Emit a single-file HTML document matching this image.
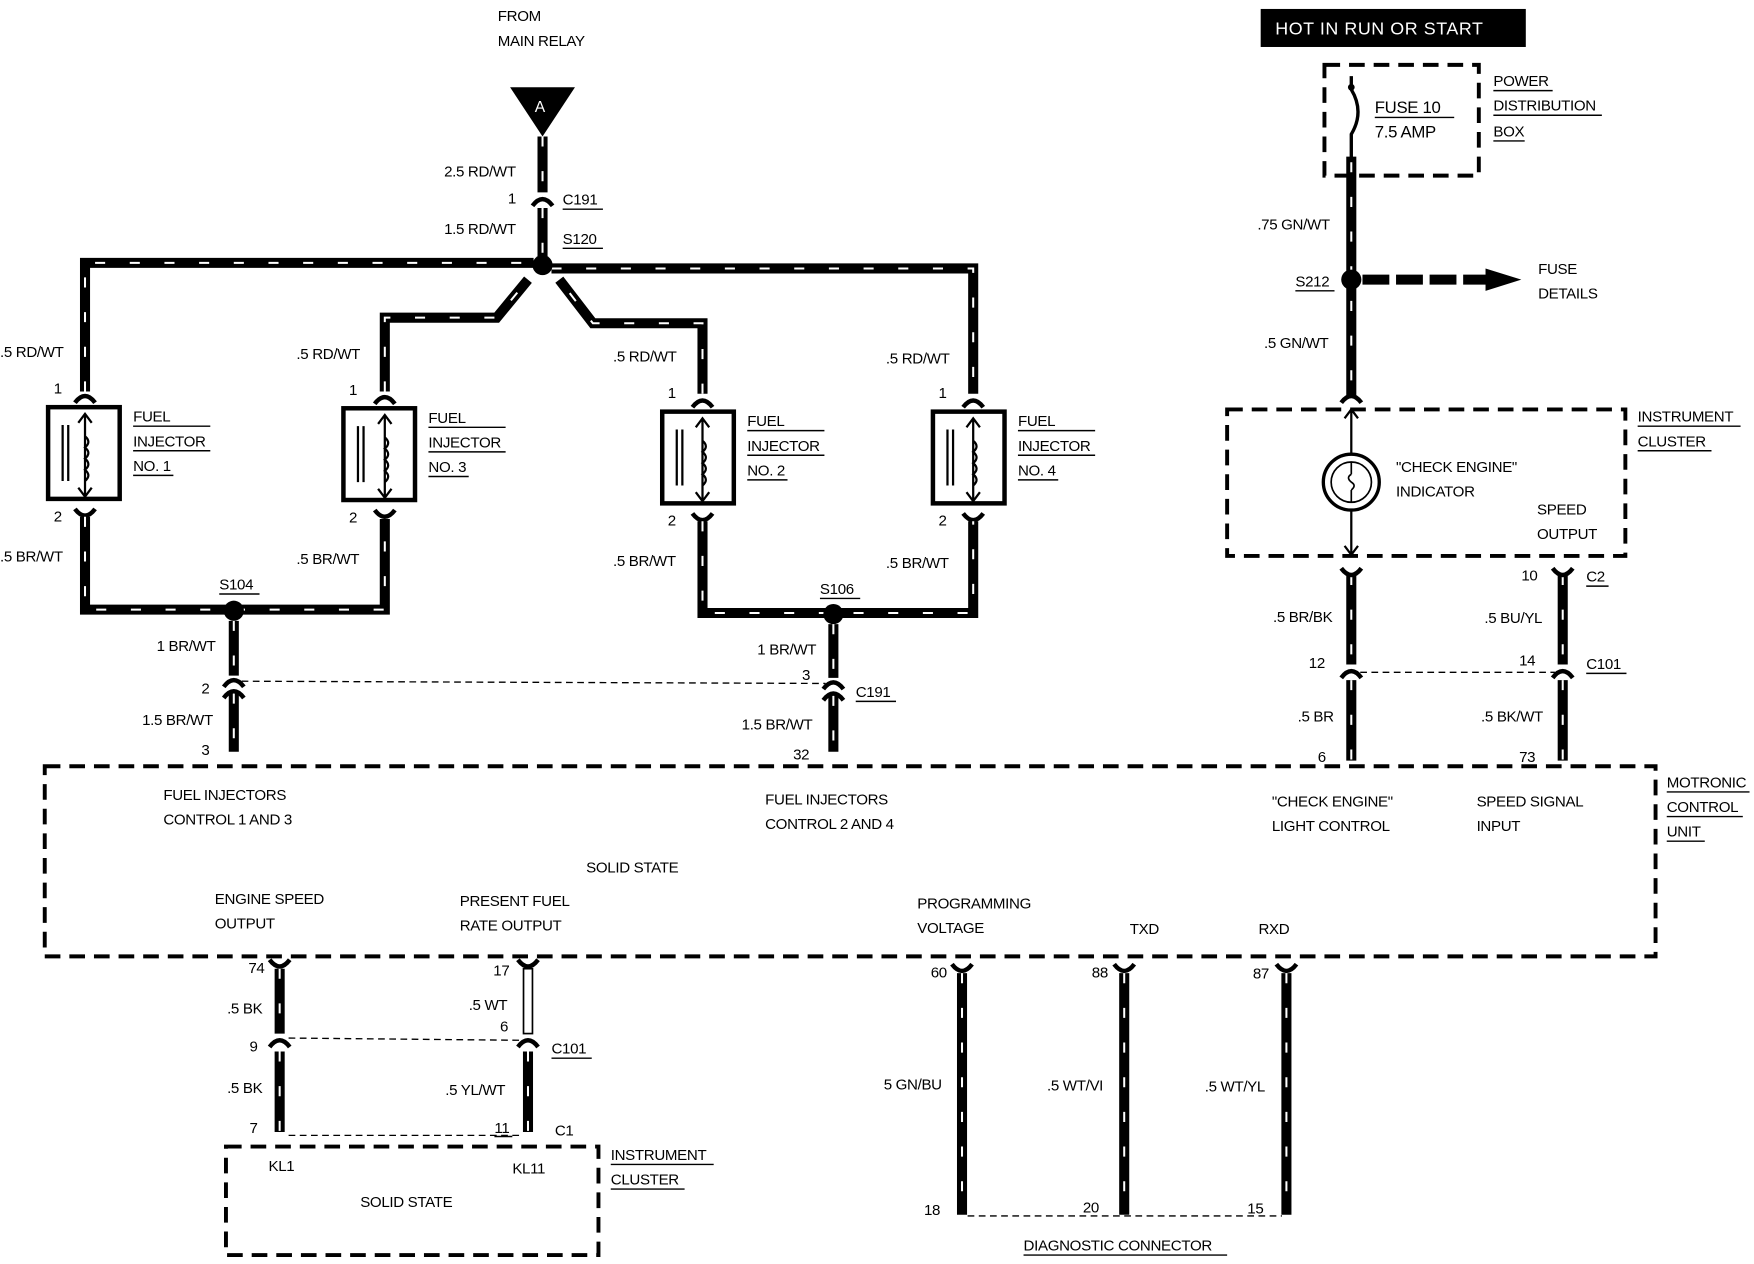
<!DOCTYPE html>
<html><head><meta charset="utf-8"><style>
html,body{margin:0;padding:0;background:#fff;width:1754px;height:1264px;overflow:hidden}
svg{display:block}
text{font-family:"Liberation Sans",sans-serif;font-size:13.5px;fill:#000;letter-spacing:-0.3px}
.w{stroke:#000;stroke-width:9;fill:none;stroke-linejoin:miter}
.d{stroke:#fff;stroke-width:1.8;fill:none;stroke-dasharray:9 22}
.db{stroke:#000;stroke-width:3.5;fill:none;stroke-dasharray:14 8}
.dt{stroke:#000;stroke-width:1.2;fill:none;stroke-dasharray:6 4}
.u{stroke:#000;stroke-width:1.3}
</style></head><body>
<svg width="1754" height="1264" viewBox="0 0 1568 1130" preserveAspectRatio="none" xmlns="http://www.w3.org/2000/svg">
<defs>
<g id="fork"><path d="M-9 8 Q0 -4 9 8" stroke="#000" stroke-width="4" fill="none"/></g>
</defs>

<text x="445" y="19">FROM</text>
<text x="445" y="41">MAIN RELAY</text>
<polygon points="456,78 514,78 485,122" fill="#000"/>
<text x="478" y="100" style="fill:#fff;font-size:14px">A</text>

<path class="w" d="M485 122 V172 M485 186 V237"/>
<path class="d" d="M485 122 V172 M485 186 V237"/>
<path d="M476 184 Q485 172 494 184" stroke="#000" stroke-width="4" fill="none"/>
<text x="397" y="158">2.5 RD/WT</text>
<text x="454" y="182">1</text>
<text x="503" y="183">C191</text><line class="u" x1="503" y1="187" x2="539" y2="187"/>
<text x="397" y="209">1.5 RD/WT</text>
<text x="503" y="218">S120</text><line class="u" x1="503" y1="222" x2="539" y2="222"/>

<path class="w" d="M76 350 V235 H477 M493 240 H870 V352 M344 350 V284 H444 L472 250 M628 352 V289 H530 L500 250"/>
<path class="d" d="M76 350 V235 H477 M493 240 H870 V352 M344 350 V284 H444 L472 250 M628 352 V289 H530 L500 250"/>
<circle cx="485" cy="237" r="9" fill="#000"/>

<text x="0" y="319">.5 RD/WT</text>
<text x="265" y="321">.5 RD/WT</text>
<text x="548" y="323">.5 RD/WT</text>
<text x="792" y="325">.5 RD/WT</text>

<g>
<use href="#fork" x="76" y="352"/><text x="48" y="352">1</text>
<rect x="43" y="364" width="64" height="82" fill="none" stroke="#000" stroke-width="4"/>
<path d="M56 380 V430 M61 380 V430" stroke="#000" stroke-width="2"/>
<path d="M76 370 V444 M70 378 L76 370 L82 378 M70 436 L76 444 L82 436 M76 390 q6 5 0 10 q6 5 0 10 q6 5 0 10 q6 5 0 10" stroke="#000" stroke-width="2" fill="none"/>
<text x="48" y="466">2</text><use href="#fork" x="76" y="455" transform="rotate(180 76 459)"/>
<text x="119" y="377">FUEL</text><line class="u" x1="119" y1="381" x2="188" y2="381"/>
<text x="119" y="399">INJECTOR</text><line class="u" x1="119" y1="403" x2="188" y2="403"/>
<text x="119" y="421">NO. 1</text><line class="u" x1="119" y1="425" x2="155" y2="425"/>
</g>
<g transform="translate(264,1)">
<use href="#fork" x="80" y="352"/><text x="48" y="352">1</text>
<rect x="43" y="364" width="64" height="82" fill="none" stroke="#000" stroke-width="4"/>
<path d="M56 380 V430 M61 380 V430" stroke="#000" stroke-width="2"/>
<path d="M80 370 V444 M74 378 L80 370 L86 378 M74 436 L80 444 L86 436 M80 390 q6 5 0 10 q6 5 0 10 q6 5 0 10 q6 5 0 10" stroke="#000" stroke-width="2" fill="none"/>
<text x="48" y="466">2</text><use href="#fork" x="80" y="455" transform="rotate(180 80 459)"/>
<text x="119" y="377">FUEL</text><line class="u" x1="119" y1="381" x2="188" y2="381"/>
<text x="119" y="399">INJECTOR</text><line class="u" x1="119" y1="403" x2="188" y2="403"/>
<text x="119" y="421">NO. 3</text><line class="u" x1="119" y1="425" x2="155" y2="425"/>
</g>
<g transform="translate(549,4)">
<use href="#fork" x="79" y="352"/><text x="48" y="352">1</text>
<rect x="43" y="364" width="64" height="82" fill="none" stroke="#000" stroke-width="4"/>
<path d="M56 380 V430 M61 380 V430" stroke="#000" stroke-width="2"/>
<path d="M79 370 V444 M73 378 L79 370 L85 378 M73 436 L79 444 L85 436 M79 390 q6 5 0 10 q6 5 0 10 q6 5 0 10 q6 5 0 10" stroke="#000" stroke-width="2" fill="none"/>
<text x="48" y="466">2</text><use href="#fork" x="79" y="455" transform="rotate(180 79 459)"/>
<text x="119" y="377">FUEL</text><line class="u" x1="119" y1="381" x2="188" y2="381"/>
<text x="119" y="399">INJECTOR</text><line class="u" x1="119" y1="403" x2="188" y2="403"/>
<text x="119" y="421">NO. 2</text><line class="u" x1="119" y1="425" x2="155" y2="425"/>
</g>
<g transform="translate(791,4)">
<use href="#fork" x="79" y="352"/><text x="48" y="352">1</text>
<rect x="43" y="364" width="64" height="82" fill="none" stroke="#000" stroke-width="4"/>
<path d="M56 380 V430 M61 380 V430" stroke="#000" stroke-width="2"/>
<path d="M79 370 V444 M73 378 L79 370 L85 378 M73 436 L79 444 L85 436 M79 390 q6 5 0 10 q6 5 0 10 q6 5 0 10 q6 5 0 10" stroke="#000" stroke-width="2" fill="none"/>
<text x="48" y="466">2</text><use href="#fork" x="79" y="455" transform="rotate(180 79 459)"/>
<text x="119" y="377">FUEL</text><line class="u" x1="119" y1="381" x2="188" y2="381"/>
<text x="119" y="399">INJECTOR</text><line class="u" x1="119" y1="403" x2="188" y2="403"/>
<text x="119" y="421">NO. 4</text><line class="u" x1="119" y1="425" x2="155" y2="425"/>
</g>

<path class="w" d="M76 462 V545 H344 V464 M628 466 V548 H870 V466"/>
<path class="d" d="M76 462 V545 H344 V464 M628 466 V548 H870 V466"/>
<circle cx="209" cy="546" r="9" fill="#000"/>
<circle cx="745" cy="549" r="9" fill="#000"/>
<text x="0" y="502">.5 BR/WT</text>
<text x="265" y="504">.5 BR/WT</text>
<text x="548" y="506">.5 BR/WT</text>
<text x="792" y="508">.5 BR/WT</text>
<text x="196" y="527">S104</text><line class="u" x1="196" y1="531" x2="232" y2="531"/>
<text x="733" y="531">S106</text><line class="u" x1="733" y1="535" x2="769" y2="535"/>

<path class="w" d="M209 555 V604 M209 620 V672 M745 558 V606 M745 622 V672"/>
<path class="d" d="M209 555 V604 M209 620 V672 M745 558 V606 M745 622 V672"/>
<path d="M200 614 Q209 602 218 614 M200 624 Q209 612 218 624 M736 616 Q745 604 754 616 M736 626 Q745 614 754 626" stroke="#000" stroke-width="4" fill="none"/>
<line class="dt" x1="216" y1="609" x2="738" y2="611"/>
<text x="140" y="582">1 BR/WT</text>
<text x="180" y="620">2</text>
<text x="127" y="648">1.5 BR/WT</text>
<text x="180" y="675">3</text>
<text x="677" y="585">1 BR/WT</text>
<text x="717" y="608">3</text>
<text x="765" y="623">C191</text><line class="u" x1="765" y1="627" x2="801" y2="627"/>
<text x="663" y="652">1.5 BR/WT</text>
<text x="709" y="679">32</text>

<rect x="1127" y="8" width="237" height="34" fill="#000"/>
<text x="1140" y="31" style="fill:#fff;font-size:16px;letter-spacing:0.5px">HOT IN RUN OR START</text>
<rect x="1184" y="58" width="138" height="99" class="db"/>
<path d="M1208 68 V80 Q1220 100 1208 120 V160" stroke="#000" stroke-width="3" fill="none"/>
<circle cx="1208" cy="78" r="3" fill="#000"/>
<text x="1229" y="101" style="font-size:15px">FUSE 10</text><line class="u" x1="1229" y1="105" x2="1300" y2="105"/>
<text x="1229" y="123" style="font-size:15px">7.5 AMP</text>
<text x="1335" y="77">POWER</text><line class="u" x1="1335" y1="81" x2="1388" y2="81"/>
<text x="1335" y="99">DISTRIBUTION</text><line class="u" x1="1335" y1="103" x2="1432" y2="103"/>
<text x="1335" y="122">BOX</text><line class="u" x1="1335" y1="126" x2="1363" y2="126"/>

<path class="w" d="M1208 140 V354"/>
<path class="d" d="M1208 145 V354"/>
<circle cx="1208" cy="250" r="9" fill="#000"/>
<path d="M1218 250 H1330" stroke="#000" stroke-width="9" stroke-dasharray="24 6"/>
<polygon points="1328,240 1360,250 1328,260" fill="#000"/>
<text x="1124" y="205">.75 GN/WT</text>
<text x="1158" y="256">S212</text><line class="u" x1="1158" y1="260" x2="1193" y2="260"/>
<text x="1375" y="245">FUSE</text>
<text x="1375" y="267">DETAILS</text>
<text x="1130" y="311">.5 GN/WT</text>
<use href="#fork" x="1208" y="352"/>

<rect x="1097" y="366" width="356" height="131" class="db"/>
<path d="M1208 366 V496 M1202 374 L1208 366 L1214 374 M1202 488 L1208 496 L1214 488" stroke="#000" stroke-width="2" fill="none"/>
<circle cx="1208" cy="431" r="25" fill="#fff" stroke="#000" stroke-width="3"/>
<circle cx="1208" cy="431" r="18" fill="none" stroke="#000" stroke-width="1.5"/>
<path d="M1208 413 V424 M1208 438 V449 M1208 424 q-5 3 0 7 q5 3 0 7" stroke="#000" stroke-width="1.5" fill="none"/>
<text x="1248" y="422">"CHECK ENGINE"</text>
<text x="1248" y="444">INDICATOR</text>
<text x="1374" y="460">SPEED</text>
<text x="1374" y="482">OUTPUT</text>
<text x="1464" y="377">INSTRUMENT</text><line class="u" x1="1464" y1="381" x2="1556" y2="381"/>
<text x="1464" y="399">CLUSTER</text><line class="u" x1="1464" y1="403" x2="1530" y2="403"/>

<path class="w" d="M1208 514 V594 M1208 608 V680 M1397 514 V594 M1397 608 V680"/>
<path class="d" d="M1208 514 V594 M1208 608 V680 M1397 514 V594 M1397 608 V680"/>
<use href="#fork" x="1208" y="508" transform="rotate(180 1208 512)"/>
<use href="#fork" x="1397" y="508" transform="rotate(180 1397 512)"/>
<path d="M1199 606 Q1208 594 1217 606 M1388 606 Q1397 594 1406 606" stroke="#000" stroke-width="4" fill="none"/>
<line class="dt" x1="1216" y1="601" x2="1390" y2="601"/>
<text x="1138" y="556">.5 BR/BK</text>
<text x="1170" y="597">12</text>
<text x="1160" y="645">.5 BR</text>
<text x="1178" y="681">6</text>
<text x="1360" y="519">10</text>
<text x="1418" y="520">C2</text><line class="u" x1="1418" y1="524" x2="1438" y2="524"/>
<text x="1327" y="557">.5 BU/YL</text>
<text x="1358" y="595">14</text>
<text x="1418" y="598">C101</text><line class="u" x1="1418" y1="602" x2="1454" y2="602"/>
<text x="1324" y="645">.5 BK/WT</text>
<text x="1358" y="681">73</text>

<rect x="40" y="685" width="1440" height="170" class="db"/>
<text x="1490" y="704">MOTRONIC</text><line class="u" x1="1490" y1="708" x2="1564" y2="708"/>
<text x="1490" y="726">CONTROL</text><line class="u" x1="1490" y1="730" x2="1558" y2="730"/>
<text x="1490" y="748">UNIT</text><line class="u" x1="1490" y1="752" x2="1524" y2="752"/>
<text x="146" y="715">FUEL INJECTORS</text>
<text x="146" y="737">CONTROL 1 AND 3</text>
<text x="684" y="719">FUEL INJECTORS</text>
<text x="684" y="741">CONTROL 2 AND 4</text>
<text x="1137" y="721">"CHECK ENGINE"</text>
<text x="1137" y="743">LIGHT CONTROL</text>
<text x="1320" y="721">SPEED SIGNAL</text>
<text x="1320" y="743">INPUT</text>
<text x="524" y="780">SOLID STATE</text>
<text x="192" y="808">ENGINE SPEED</text>
<text x="192" y="830">OUTPUT</text>
<text x="411" y="810">PRESENT FUEL</text>
<text x="411" y="832">RATE OUTPUT</text>
<text x="820" y="812">PROGRAMMING</text>
<text x="820" y="834">VOLTAGE</text>
<text x="1010" y="835">TXD</text>
<text x="1125" y="835">RXD</text>

<use href="#fork" x="250" y="858" transform="rotate(180 250 862)"/>
<use href="#fork" x="472" y="858" transform="rotate(180 472 862)"/>
<path class="w" d="M250 866 V924 M250 940 V1012 M472 940 V1012"/>
<path class="d" d="M250 866 V924 M250 940 V1012 M472 940 V1012"/>
<rect x="468" y="866" width="8" height="58" fill="#fff" stroke="#000" stroke-width="1.5"/>
<path d="M241 936 Q250 924 259 936 M463 936 Q472 924 481 936" stroke="#000" stroke-width="4" fill="none"/>
<line class="dt" x1="258" y1="928" x2="466" y2="930"/>
<line class="dt" x1="258" y1="1015" x2="466" y2="1015"/>
<text x="222" y="870">74</text>
<text x="203" y="906">.5 BK</text>
<text x="223" y="940">9</text>
<text x="203" y="977">.5 BK</text>
<text x="223" y="1013">7</text>
<text x="441" y="872">17</text>
<text x="419" y="903">.5 WT</text>
<text x="447" y="922">6</text>
<text x="493" y="942">C101</text><line class="u" x1="493" y1="946" x2="529" y2="946"/>
<text x="398" y="979">.5 YL/WT</text>
<text x="442" y="1013">11</text><line class="u" x1="442" y1="1016" x2="458" y2="1016"/>
<text x="496" y="1015">C1</text>
<rect x="202" y="1025" width="333" height="97" class="db"/>
<text x="240" y="1047">KL1</text>
<text x="458" y="1049">KL11</text>
<text x="322" y="1079">SOLID STATE</text>
<text x="546" y="1037">INSTRUMENT</text><line class="u" x1="546" y1="1041" x2="638" y2="1041"/>
<text x="546" y="1059">CLUSTER</text><line class="u" x1="546" y1="1063" x2="612" y2="1063"/>

<use href="#fork" x="860" y="862" transform="rotate(180 860 866)"/>
<use href="#fork" x="1005" y="862" transform="rotate(180 1005 866)"/>
<use href="#fork" x="1150" y="862" transform="rotate(180 1150 866)"/>
<path class="w" d="M860 870 V1086 M1005 870 V1086 M1150 870 V1086"/>
<path class="d" d="M860 870 V1086 M1005 870 V1086 M1150 870 V1086"/>
<line class="dt" x1="865" y1="1087" x2="1146" y2="1087"/>
<text x="832" y="874">60</text>
<text x="976" y="874">88</text>
<text x="1120" y="875">87</text>
<text x="790" y="974">5 GN/BU</text>
<text x="936" y="975">.5 WT/VI</text>
<text x="1077" y="976">.5 WT/YL</text>
<text x="826" y="1086">18</text>
<text x="968" y="1084">20</text>
<text x="1115" y="1085">15</text>
<text x="915" y="1118">DIAGNOSTIC CONNECTOR</text><line class="u" x1="915" y1="1122" x2="1097" y2="1122"/>
</svg>
</body></html>
